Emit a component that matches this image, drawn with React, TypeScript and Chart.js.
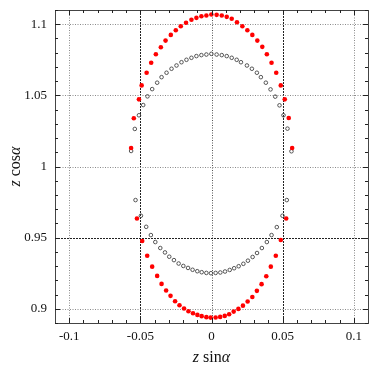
import React, { useEffect, useRef } from 'react';
import { Chart, registerables } from 'chart.js';

Chart.register(...registerables);

// Red filled circles (outer curve)
const redX = [
  -0.0565, -0.0546, -0.0510, -0.0491, -0.0456, -0.0424, -0.0391, -0.0356, -0.0323, -0.0286, -0.0251, -0.0216,
  -0.0179, -0.0141, -0.0106, -0.0071, -0.0036, -0.0001, 0.0036, 0.0072, 0.0107, 0.0142, 0.0179, 0.0217,
  0.0252, 0.0287, 0.0322, 0.0357, 0.0389, 0.0422, 0.0455, 0.0487, 0.0515, 0.0543, 0.0567,
  -0.0524, -0.0487, -0.0452, -0.0417, -0.0382, -0.0351, -0.0319, -0.0288, -0.0256, -0.0225, -0.0193, -0.0162,
  -0.0130, -0.0099, -0.0069, -0.0036, -0.0006, 0.0029, 0.0061, 0.0093, 0.0124, 0.0156, 0.0189, 0.0221,
  0.0254, 0.0287, 0.0319, 0.0352, 0.0385, 0.0417, 0.0452, 0.0487, 0.0525,
];
const redY = [
  1.0130, 1.0339, 1.0472, 1.0570, 1.0659, 1.0729, 1.0789, 1.0838, 1.0885, 1.0925, 1.0958, 1.0986,
  1.1010, 1.1031, 1.1045, 1.1056, 1.1061, 1.1068, 1.1066, 1.1061, 1.1052, 1.1038, 1.1014, 1.0986,
  1.0958, 1.0925, 1.0885, 1.0841, 1.0789, 1.0729, 1.0659, 1.0570, 1.0472, 1.0341, 1.0130,
  0.9635, 0.9476, 0.9373, 0.9296, 0.9231, 0.9175, 0.9128, 0.9091, 0.9053, 0.9025, 0.9002, 0.8983,
  0.8969, 0.8957, 0.8948, 0.8941, 0.8938, 0.8939, 0.8943, 0.8950, 0.8961, 0.8980, 0.8999, 0.9022,
  0.9051, 0.9083, 0.9126, 0.9173, 0.9229, 0.9296, 0.9373, 0.9483, 0.9635,
];

// Open black circles (inner curve)
const grayX = [
  -0.0565, -0.0539, -0.0510, -0.0480, -0.0450, -0.0417, -0.0382, -0.0351, -0.0316, -0.0281, -0.0246, -0.0211,
  -0.0176, -0.0141, -0.0106, -0.0071, -0.0036, -0.0001, 0.0036, 0.0072, 0.0107, 0.0142, 0.0177, 0.0207,
  0.0249, 0.0284, 0.0319, 0.0347, 0.0382, 0.0415, 0.0448, 0.0478, 0.0506, 0.0534, 0.0562,
  -0.0534, -0.0496, -0.0459, -0.0426, -0.0395, -0.0360, -0.0327, -0.0297, -0.0264, -0.0231, -0.0198, -0.0165,
  -0.0133, -0.0100, -0.0069, -0.0036, -0.0004, 0.0029, 0.0062, 0.0095, 0.0128, 0.0159, 0.0191, 0.0224,
  0.0256, 0.0289, 0.0320, 0.0354, 0.0389, 0.0422, 0.0459, 0.0499, 0.0529,
];
const grayY = [
  1.0109, 1.0264, 1.0360, 1.0432, 1.0493, 1.0544, 1.0589, 1.0628, 1.0659, 1.0687, 1.0710, 1.0733,
  1.0750, 1.0764, 1.0776, 1.0783, 1.0787, 1.0792, 1.0787, 1.0783, 1.0776, 1.0764, 1.0750, 1.0733,
  1.0710, 1.0687, 1.0659, 1.0628, 1.0589, 1.0542, 1.0491, 1.0430, 1.0360, 1.0266, 1.0107,
  0.9764, 0.9654, 0.9576, 0.9518, 0.9469, 0.9427, 0.9396, 0.9366, 0.9342, 0.9318, 0.9301, 0.9287,
  0.9274, 0.9264, 0.9257, 0.9252, 0.9250, 0.9252, 0.9255, 0.9262, 0.9273, 0.9285, 0.9299, 0.9316,
  0.9338, 0.9364, 0.9392, 0.9427, 0.9469, 0.9518, 0.9574, 0.9654, 0.9764,
];

const xTickValues = [-0.1, -0.05, 0, 0.05, 0.1];
const xTickLabels = ['-0.1', '-0.05', '0', '0.05', '0.1'];
const yTickValues = [0.9, 0.95, 1, 1.05, 1.1];
const yTickLabels = ['0.9', '0.95', '1', '1.05', '1.1'];
const xTitleParts = [
  { t: 'z', italic: true },
  { t: ' sin', italic: false },
  { t: 'α', italic: true },
];
const yTitleParts = [
  { t: 'z', italic: true },
  { t: ' cos', italic: false },
  { t: 'α', italic: true },
];

const SERIF = '"Liberation Serif", "DejaVu Serif", serif';

function labelFor(values: number[], labels: string[], v: number) {
  const i = values.findIndex((t) => Math.abs(t - v) < 1e-9);
  return i >= 0 ? labels[i] : '';
}

function drawParts(ctx: CanvasRenderingContext2D, parts: { t: string; italic: boolean }[], cx: number, cy: number) {
  const size = 16;
  const widths = parts.map((p) => {
    ctx.font = `${p.italic ? 'italic ' : ''}${size}px ${SERIF}`;
    return ctx.measureText(p.t).width;
  });
  const total = widths.reduce((a, b) => a + b, 0);
  let x = cx - total / 2;
  ctx.textBaseline = 'middle';
  ctx.textAlign = 'left';
  parts.forEach((p, i) => {
    ctx.font = `${p.italic ? 'italic ' : ''}${size}px ${SERIF}`;
    ctx.fillText(p.t, x, cy);
    x += widths[i];
  });
}

const framePlugin = {
  id: 'frameTicks',
  beforeDatasetsDraw(chart: any) {
    const { ctx, chartArea: a, scales } = chart;
    const xs = scales.x;
    const ys = scales.y;
    ctx.save();
    ctx.lineWidth = 1;
    xTickValues.forEach((v) => {
      const px = Math.round(xs.getPixelForValue(v)) + 0.5;
      const dark = Math.abs(Math.abs(v) - 0.05) < 1e-9;
      ctx.strokeStyle = dark ? '#222' : v === 0 ? '#555' : '#8a8a8a';
      ctx.setLineDash(dark ? [2, 1] : [1, 1.5]);
      ctx.beginPath();
      ctx.moveTo(px, a.top);
      ctx.lineTo(px, a.bottom);
      ctx.stroke();
    });
    yTickValues.forEach((v) => {
      const py = Math.round(ys.getPixelForValue(v)) + 0.5;
      const dark = Math.abs(v - 0.95) < 1e-9;
      ctx.strokeStyle = dark ? '#222' : '#8a8a8a';
      ctx.setLineDash(dark ? [2, 1] : [1, 1.5]);
      ctx.beginPath();
      ctx.moveTo(a.left, py);
      ctx.lineTo(a.right, py);
      ctx.stroke();
    });
    ctx.restore();
  },
  afterDatasetsDraw(chart: any) {
    const { ctx, chartArea: a, scales } = chart;
    const xs = scales.x;
    const ys = scales.y;
    ctx.save();
    ctx.setLineDash([]);
    ctx.strokeStyle = '#444';
    ctx.lineWidth = 1;
    ctx.strokeRect(Math.round(a.left) + 0.5, Math.round(a.top) + 0.5, Math.round(a.right - a.left), Math.round(a.bottom - a.top));
    ctx.strokeStyle = '#222';
    ctx.beginPath();
    for (let i = -10; i <= 10; i++) {
      const v = i / 100;
      const major = i % 5 === 0;
      const len = major ? 5 : 3;
      const px = Math.round(xs.getPixelForValue(v)) + 0.5;
      ctx.moveTo(px, a.top);
      ctx.lineTo(px, a.top + len);
      ctx.moveTo(px, a.bottom);
      ctx.lineTo(px, a.bottom - len);
    }
    for (let i = 89; i <= 111; i++) {
      const v = i / 100;
      const major = i % 5 === 0;
      const len = major ? 5 : 3;
      const py = Math.round(ys.getPixelForValue(v)) + 0.5;
      ctx.moveTo(a.left, py);
      ctx.lineTo(a.left + len, py);
      ctx.moveTo(a.right, py);
      ctx.lineTo(a.right - len, py);
    }
    ctx.stroke();

    ctx.fillStyle = '#111';
    drawParts(ctx, xTitleParts, (a.left + a.right) / 2, 358);
    ctx.translate(16, (a.top + a.bottom) / 2);
    ctx.rotate(-Math.PI / 2);
    drawParts(ctx, yTitleParts, 0, 0);
    ctx.restore();
  },
};

export default function App() {
  const ref = useRef<HTMLCanvasElement | null>(null);

  useEffect(() => {
    if (!ref.current) return;
    const red = redX.map((x, i) => ({ x, y: redY[i] }));
    const gray = grayX.map((x, i) => ({ x, y: grayY[i] }));
    const chart = new Chart(ref.current, {
      type: 'scatter',
      data: {
        datasets: [
          {
            label: 'red',
            data: red,
            pointRadius: 2.3,
            pointBackgroundColor: '#ff0000',
            pointBorderColor: '#ff0000',
            pointBorderWidth: 0,
            showLine: false,
          },
          {
            label: 'open',
            data: gray,
            pointRadius: 1.8,
            pointBackgroundColor: 'rgba(255,255,255,0)',
            pointBorderColor: '#444',
            pointBorderWidth: 0.9,
            showLine: false,
          },
        ],
      },
      options: {
        animation: false,
        responsive: false,
        devicePixelRatio: 1,
        layout: { padding: { top: 10, right: 14, left: 0, bottom: 0 } },
        plugins: { legend: { display: false }, tooltip: { enabled: false } },
        scales: {
          x: {
            type: 'linear',
            min: -0.11,
            max: 0.11,
            grid: { display: false, drawTicks: false },
            border: { display: false },
            afterBuildTicks: (s: any) => {
              s.ticks = xTickValues.map((v) => ({ value: v }));
            },
            afterFit: (s: any) => {
              s.height = 52;
              s.paddingLeft = 0;
              s.paddingRight = 0;
            },
            ticks: {
              autoSkip: false,
              maxRotation: 0,
              padding: 6,
              color: '#111',
              font: { family: SERIF, size: 13 },
              callback: (v: any) => labelFor(xTickValues, xTickLabels, Number(v)),
            },
          },
          y: {
            type: 'linear',
            min: 0.89,
            max: 1.11,
            grid: { display: false, drawTicks: false },
            border: { display: false },
            afterBuildTicks: (s: any) => {
              s.ticks = yTickValues.map((v) => ({ value: v }));
            },
            afterFit: (s: any) => {
              s.width = 55;
              s.paddingTop = 0;
              s.paddingBottom = 0;
            },
            ticks: {
              autoSkip: false,
              padding: 8,
              color: '#111',
              font: { family: SERIF, size: 13 },
              callback: (v: any) => labelFor(yTickValues, yTickLabels, Number(v)),
            },
          },
        },
      },
      plugins: [framePlugin],
    } as any);
    return () => chart.destroy();
  }, []);

  return (
    <div style={{ position: 'absolute', left: 0, top: 0, width: 382, height: 375, background: '#fff' }}>
      <canvas ref={ref} width={382} height={375} />
    </div>
  );
}
